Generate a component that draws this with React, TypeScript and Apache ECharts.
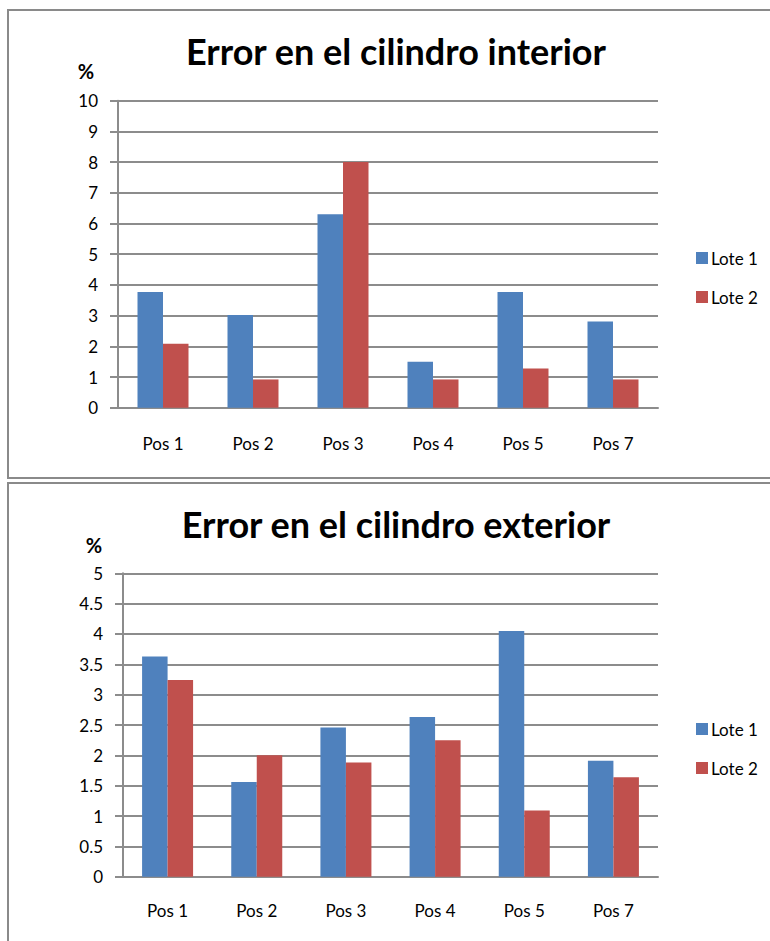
import React, { useEffect, useRef } from "react";
import * as echarts from "echarts";

const categories = ["Pos 1", "Pos 2", "Pos 3", "Pos 4", "Pos 5", "Pos 7"];
const seriesNames = ["Lote 1", "Lote 2"];
const interiorLote1 = [3.77, 3.02, 6.3, 1.5, 3.77, 2.81];
const interiorLote2 = [2.08, 0.92, 8.0, 0.92, 1.28, 0.92];
const exteriorLote1 = [3.63, 1.56, 2.46, 2.63, 4.05, 1.91];
const exteriorLote2 = [3.24, 2.0, 1.88, 2.25, 1.09, 1.64];
const titles = ["Error en el cilindro interior", "Error en el cilindro exterior"];
const unitLabel = "%";

const FONT = "Lato";
const BLUE = "#4F81BD";
const RED = "#C0504D";
const GRID = "#8c8c8c";

export default function App() {
  const ref = useRef<HTMLDivElement>(null);
  useEffect(() => {
    if (!ref.current) return;
    const chart = echarts.init(ref.current, null, { renderer: "svg" });
    const yAxisCommon = (min: number, max: number, interval: number, gridIndex: number) => ({
      type: "value",
      gridIndex,
      min,
      max,
      interval,
      axisLine: { show: true, lineStyle: { color: GRID, width: 2 } },
      axisTick: { show: true, length: 8, lineStyle: { color: GRID, width: 2 } },
      splitLine: { show: true, lineStyle: { color: GRID, width: 2 } },
      axisLabel: { color: "#000", fontFamily: FONT, fontSize: 17, margin: 20 },
    });
    const xAxisCommon = (gridIndex: number, margin: number) => ({
      type: "category",
      gridIndex,
      data: categories,
      axisLine: { show: true, lineStyle: { color: GRID, width: 2 } },
      axisTick: { show: false },
      axisLabel: { color: "#000", fontFamily: FONT, fontSize: 17, margin },
    });
    const barSeries = (name: string, data: number[], color: string, idx: number) => ({
      type: "bar",
      name,
      data,
      xAxisIndex: idx,
      yAxisIndex: idx,
      barWidth: 25.5,
      barGap: "0%",
      itemStyle: { color },
    });
    const legendCommon = (top: number) => ({
      orient: "vertical",
      left: 691,
      top,
      itemWidth: 12,
      itemHeight: 12,
      itemGap: 19,
      icon: "rect",
      data: seriesNames,
      selectedMode: false,
      textStyle: { color: "#000", fontFamily: FONT, fontSize: 17, lineHeight: 20, padding: [0, 0, 0, -2] },
    });
    chart.setOption({
      animation: false,
      backgroundColor: "#fff",
      grid: [
        { left: 118, top: 100.7, width: 540, height: 307, containLabel: false },
        { left: 123, top: 573.3, width: 535, height: 303.4, containLabel: false },
      ],
      xAxis: [xAxisCommon(0, 27), xAxisCommon(1, 25)],
      yAxis: [yAxisCommon(0, 10, 1, 0), yAxisCommon(0, 5, 0.5, 1)],
      legend: [legendCommon(243), legendCommon(714)],
      series: [
        barSeries(seriesNames[0], interiorLote1, BLUE, 0),
        barSeries(seriesNames[1], interiorLote2, RED, 0),
        barSeries(seriesNames[0], exteriorLote1, BLUE, 1),
        barSeries(seriesNames[1], exteriorLote2, RED, 1),
      ],
      graphic: [
        { type: "rect", shape: { x: 8, y: 10, width: 800, height: 468 }, style: { fill: "none", stroke: "#8a8a8a", lineWidth: 2 }, silent: true },
        { type: "rect", shape: { x: 8, y: 483, width: 800, height: 500 }, style: { fill: "none", stroke: "#8a8a8a", lineWidth: 2 }, silent: true },
        { type: "text", x: 396, y: 51, style: { text: titles[0], fontFamily: FONT, fontWeight: "bold", fontSize: 36, fill: "#000", textAlign: "center", textVerticalAlign: "middle" } },
        { type: "text", x: 396, y: 524, style: { text: titles[1], fontFamily: FONT, fontWeight: "bold", fontSize: 36, fill: "#000", textAlign: "center", textVerticalAlign: "middle" } },
        { type: "text", x: 86, y: 71, style: { text: unitLabel, fontFamily: FONT, fontWeight: "bold", fontSize: 20, fill: "#000", textAlign: "center", textVerticalAlign: "middle" } },
        { type: "text", x: 94, y: 545, style: { text: unitLabel, fontFamily: FONT, fontWeight: "bold", fontSize: 20, fill: "#000", textAlign: "center", textVerticalAlign: "middle" } },
      ],
    });
    return () => chart.dispose();
  }, []);
  return (
    <div
      ref={ref}
      style={{ position: "absolute", left: 0, top: 0, width: 770, height: 941 }}
    />
  );
}
